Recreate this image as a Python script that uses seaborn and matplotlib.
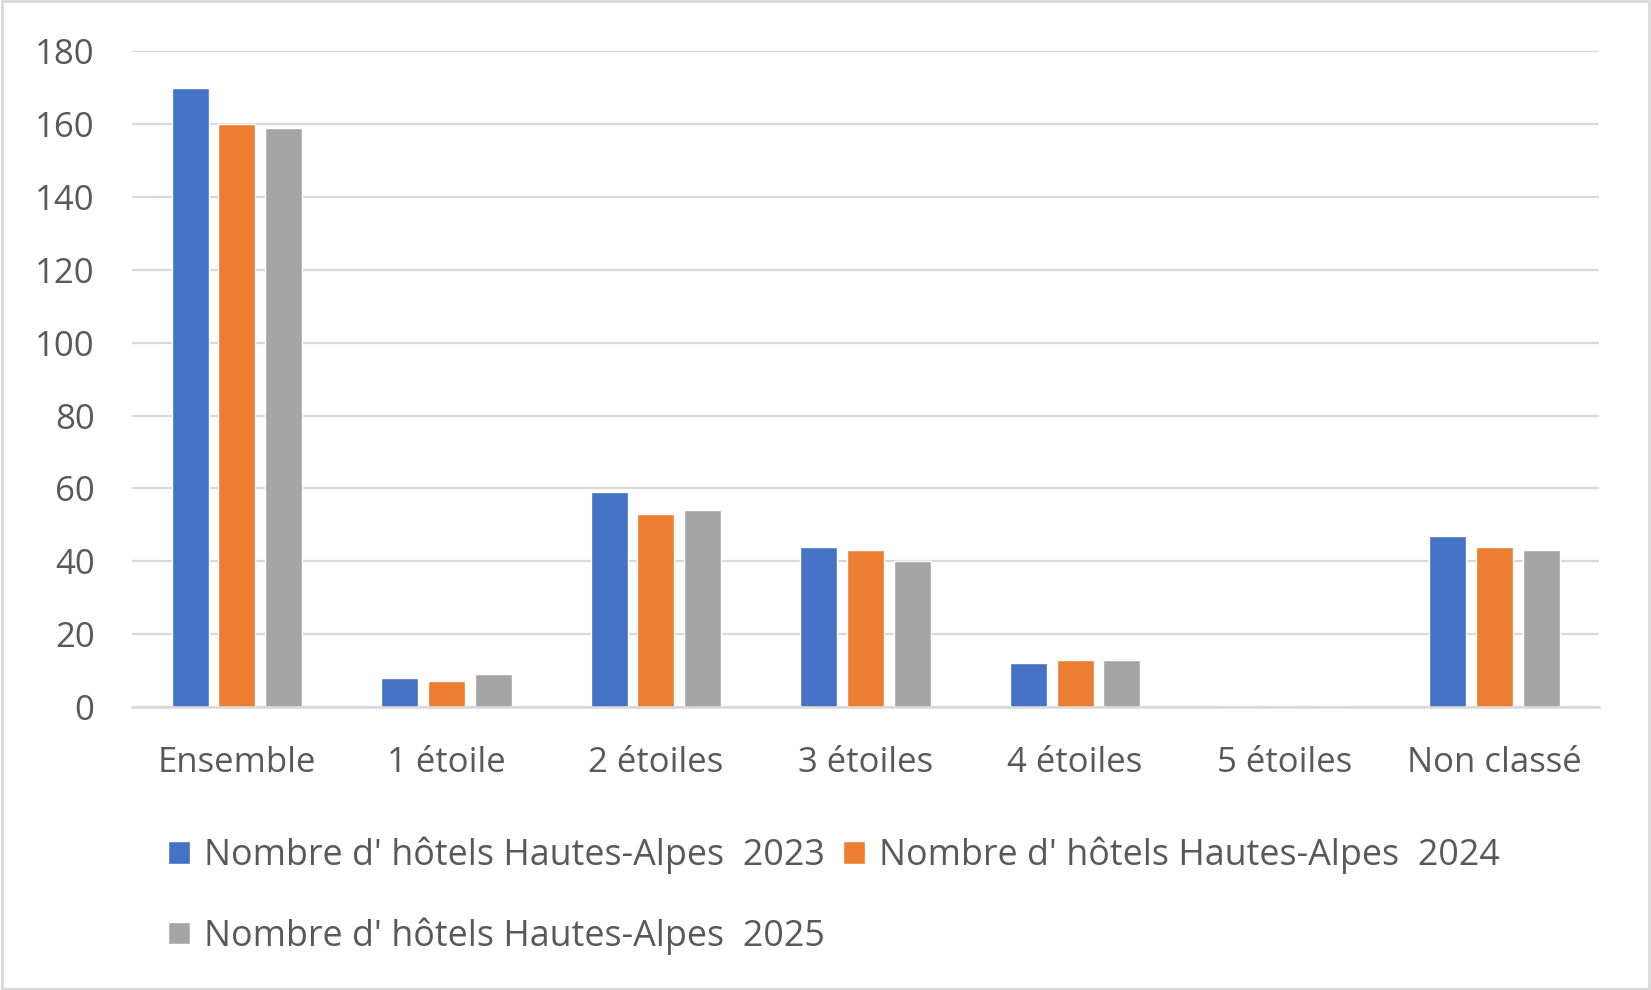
import numpy as np
import pandas as pd
import matplotlib
matplotlib.use("Agg")
import matplotlib.pyplot as plt
import seaborn as sns

# === données ===
categories = ["Ensemble", "1 étoile", "2 étoiles", "3 étoiles", "4 étoiles", "5 étoiles", "Non classé"]
series_names = [
    "Nombre d' hôtels Hautes-Alpes  2023",
    "Nombre d' hôtels Hautes-Alpes  2024",
    "Nombre d' hôtels Hautes-Alpes  2025",
]
hotels_2023 = [170, 8, 59, 44, 12, 0, 47]
hotels_2024 = [160, 7, 53, 43, 13, 0, 44]
hotels_2025 = [159, 9, 54, 40, 13, 0, 43]
y_ticks = [0, 20, 40, 60, 80, 100, 120, 140, 160, 180]
colors = ["#4472C4", "#ED7D31", "#A5A5A5"]

df = pd.DataFrame({
    "categorie": categories * 3,
    "serie": [series_names[0]] * 7 + [series_names[1]] * 7 + [series_names[2]] * 7,
    "valeur": hotels_2023 + hotels_2024 + hotels_2025,
})

sns.set_style("white")
plt.rcParams["font.family"] = ["Open Sans", "DejaVu Sans"]
text_color = "#595959"
fs = 25

fig = plt.figure(figsize=(16.51, 9.9), dpi=100)
ax = fig.add_axes([0.080, 0.286, 0.8885, 0.662])

sns.barplot(data=df, x="categorie", y="valeur", hue="serie", order=categories,
            hue_order=series_names, palette=colors, width=0.67, gap=0.21,
            saturation=1, ax=ax, legend=True)

ax.set_ylim(0, 180)
ax.set_xlim(-0.5, 6.5)
ax.set_yticks(y_ticks)
ax.set_xlabel("")
ax.set_ylabel("")
ax.yaxis.grid(True, color="#D9D9D9", linewidth=1.6)
ax.set_axisbelow(True)
for side in ["top", "right", "left"]:
    ax.spines[side].set_visible(False)
ax.spines["bottom"].set_color("#D9D9D9")
ax.spines["bottom"].set_linewidth(1.8)
ax.tick_params(axis="both", length=0, labelsize=fs, colors=text_color)
ax.tick_params(axis="x", pad=28)
ax.tick_params(axis="y", pad=27)

# légende : 2023 et 2024 sur la première ligne, 2025 en dessous
handles, labels = ax.get_legend_handles_labels()
order = [0, 2, 1]
ax.legend([handles[i] for i in order], [labels[i] for i in order], ncol=2,
          loc="upper left", bbox_to_anchor=(0.102, 0.155), bbox_transform=fig.transFigure,
          frameon=False, fontsize=25.8, labelcolor=text_color, handlelength=0.6,
          handleheight=0.6, handletextpad=0.4, columnspacing=0.5, labelspacing=1.2,
          borderaxespad=0, borderpad=0)

# cadre du graphique
fig.patches.append(plt.Rectangle((0.001, 0.001), 0.998, 0.998, transform=fig.transFigure,
                                 fill=False, edgecolor="#D9D9D9", linewidth=2))

fig.savefig("out.png", dpi=100)
